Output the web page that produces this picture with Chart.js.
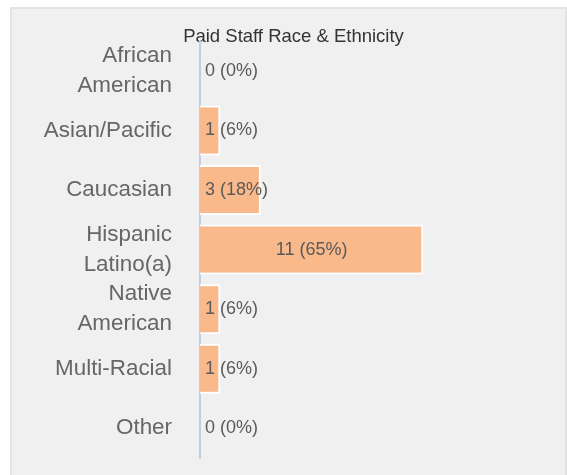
<!DOCTYPE html>
<html>
<head>
<meta charset="utf-8">
<script src="https://cdn.jsdelivr.net/npm/chart.js@4/dist/chart.umd.min.js"></script>
<style>
  html, body { margin: 0; padding: 0; background: #ffffff; overflow: hidden; }
  .panel {
    position: absolute; left: 10px; top: 7px; width: 557px; height: 480px;
    background: #f0f0f0; border: 2px solid #e3e3e3; box-sizing: border-box;
  }
  canvas { position: absolute; left: 0; top: 0; }
</style>
</head>
<body>
<div class="panel"><canvas id="chart_paidStaffRace" width="555" height="466"></canvas></div>
<script>
var categories = [
  ['African', 'American'],
  'Asian/Pacific',
  'Caucasian',
  ['Hispanic', 'Latino(a)'],
  ['Native', 'American'],
  'Multi-Racial',
  'Other'
];
var staffCounts = [0, 1, 3, 11, 1, 1, 0];
var staffTotal = 17;

var fontFamily = '"Liberation Sans", Arial, Helvetica, sans-serif';

var barLabels = {
  id: 'barLabels',
  afterDatasetsDraw: (chart) => {
    const ctx = chart.ctx;
    const meta = chart.getDatasetMeta(0);
    ctx.save();
    ctx.font = '18px ' + fontFamily;
    ctx.fillStyle = '#5a5a5a';
    ctx.textBaseline = 'middle';
    meta.data.forEach((bar, i) => {
      const v = staffCounts[i];
      const pct = Math.round(v / staffTotal * 100);
      const text = v + ' (' + pct + '%)';
      const w = ctx.measureText(text).width;
      const barW = bar.x - bar.base;
      if (w + 12 < barW) {
        ctx.textAlign = 'center';
        ctx.fillText(text, (bar.x + bar.base) / 2, bar.y);
      } else {
        ctx.textAlign = 'left';
        ctx.fillText(text, bar.base + 5, bar.y);
      }
    });
    ctx.restore();
  }
};

var chart_paidStaffRace = new Chart(document.getElementById('chart_paidStaffRace'), {
    type: 'bar',
    data: {
        labels: categories,
        datasets: [
            {
                label: 'Paid Staff',
                data: staffCounts,
                backgroundColor: '#f9b98a',
                borderColor: '#ffffff',
                borderWidth: 2,
                borderSkipped: 'start',
                barPercentage: 0.84,
                categoryPercentage: 1
            }
        ]
    },
    options: {
        indexAxis: 'y',
        animation: false,
        responsive: false,
        maintainAspectRatio: false,
        layout: {
            padding: { left: 30, right: 22, top: 0, bottom: 17 }
        },
        plugins: {
            legend: { display: false },
            tooltip: { enabled: false },
            title: {
                display: true,
                text: 'Paid Staff Race & Ethnicity',
                color: '#333333',
                font: { family: fontFamily, size: 18.5, weight: 'normal' },
                padding: { top: 17, bottom: -7 }
            }
        },
        scales: {
            x: {
                display: false,
                min: 0,
                max: staffTotal
            },
            y: {
                grid: { display: false },
                border: { display: true, color: '#bccfe6', width: 2 },
                afterFit: (scale) => {
                    scale.width = 158;
                    scale.paddingTop = 0;
                    scale.paddingBottom = 0;
                },
                ticks: {
                    color: '#666666',
                    padding: 20,
                    autoSkip: false,
                    font: { family: fontFamily, size: 22.4, lineHeight: 1.35 }
                }
            }
        }
    },
    plugins: [barLabels]
});
</script>
</body>
</html>
